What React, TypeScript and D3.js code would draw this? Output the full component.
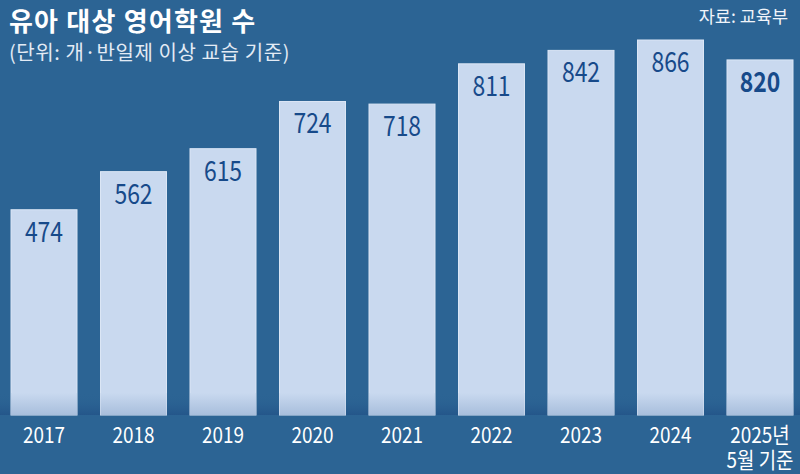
import * as React from 'react';
import * as d3 from 'd3';

const years = ['2017', '2018', '2019', '2020', '2021', '2022', '2023', '2024', '2025'];
const yearLabels = [['2017'], ['2018'], ['2019'], ['2020'], ['2021'], ['2022'], ['2023'], ['2024'], ['2025년', '5월 기준']];
const counts = [474, 562, 615, 724, 718, 811, 842, 866, 820];

const W = 800;
const H = 474;
const FONT = '"Noto Sans CJK KR", "Noto Sans", sans-serif';

export default function App() {
  const baseY = 415;
  const x = d3.scaleBand<string>()
    .domain(years)
    .range([11, 793])
    .paddingInner(0.2626)
    .paddingOuter(0);
  const y = d3.scaleLinear().domain([0, 866]).range([baseY, baseY - 375]);

  return (
    <svg width={W} height={H} style={{ display: 'block', position: 'absolute', left: 0, top: 0 }}>
      <defs>
        <linearGradient id="barFade" x1="0" y1="0" x2="0" y2="1">
          <stop offset="0%" stopColor="#c9d9ef" />
          <stop offset="100%" stopColor="#a8bedc" />
        </linearGradient>
        <linearGradient id="bgFade" x1="0" y1="0" x2="0" y2="1">
          <stop offset="0%" stopColor="#2c6494" stopOpacity={0} />
          <stop offset="100%" stopColor="#24568a" stopOpacity={1} />
        </linearGradient>
      </defs>
      <rect width={W} height={H} fill="#2c6494" />
      <rect x={0} y={baseY - 22} width={W} height={22} fill="url(#bgFade)" />

      {years.map((yr, i) => {
        const bx = x(yr) as number;
        const cx = bx + x.bandwidth() / 2;
        const top = y(counts[i]);
        return (
          <g key={yr}>
            <rect x={bx} y={top} width={x.bandwidth()} height={baseY - top} fill="#c9d9ef" stroke="#dbe6f5" strokeWidth={1} />
            <rect x={bx} y={baseY - 22} width={x.bandwidth()} height={22} fill="url(#barFade)" />
            <text
              transform={`translate(${cx},${top + 32}) scale(0.82,1)`}
              textAnchor="middle"
              fontFamily={FONT}
              fontSize={28}
              fontWeight={i === years.length - 1 ? 600 : 400}
              fill="#174a8a"
            >
              {counts[i]}
            </text>
            <text
              transform={`translate(${cx},443) scale(0.86,1)`}
              textAnchor="middle"
              fontFamily={FONT}
              fontSize={22}
              fill="#ffffff"
            >
              {yearLabels[i].map((l, j) => (
                <tspan key={l} x={0} dy={j === 0 ? 0 : 25}>{l}</tspan>
              ))}
            </text>
          </g>
        );
      })}

      <text x={9} y={31} fontFamily={FONT} fontSize={26} fontWeight={700} letterSpacing={1.2} fill="#ffffff">
        유아 대상 영어학원 수
      </text>
      <text x={9} y={60} fontFamily={FONT} fontSize={20} letterSpacing={0.6} fill="#e3ebf5">
        (단위: 개·반일제 이상 교습 기준)
      </text>
      <text x={788} y={23} textAnchor="end" fontFamily={FONT} fontSize={17.5} fill="#f0f4fa">
        자료: 교육부
      </text>
    </svg>
  );
}
